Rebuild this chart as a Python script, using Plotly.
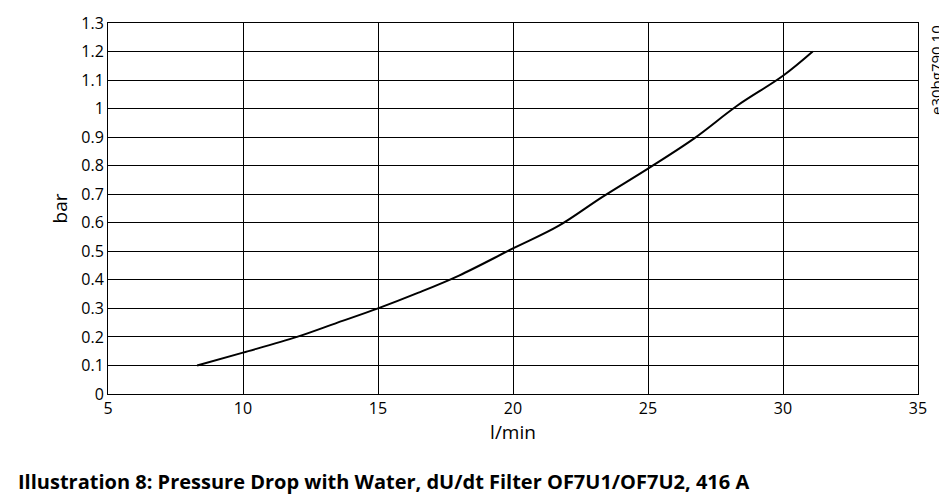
import plotly.graph_objects as go

# flow (l/min) vs pressure drop (bar)
flow = [8.3, 10.0, 12.0, 13.5, 15.0, 16.5, 18.0, 20.0, 21.7, 23.3, 25.0, 26.7, 28.3, 30.0, 31.1]
pressure = [0.10, 0.145, 0.20, 0.25, 0.30, 0.355, 0.415, 0.51, 0.59, 0.69, 0.79, 0.895, 1.01, 1.115, 1.20]

x_ticks = [5, 10, 15, 20, 25, 30, 35]
y_ticks = [0, 0.1, 0.2, 0.3, 0.4, 0.5, 0.6, 0.7, 0.8, 0.9, 1, 1.1, 1.2, 1.3]

fig = go.Figure()
fig.add_scatter(x=flow, y=pressure, mode="lines", line=dict(color="black", width=2, shape="spline"),
                showlegend=False)

fig.update_xaxes(range=[5, 35], tickvals=x_ticks, showgrid=True, gridcolor="black", gridwidth=1,
                 showline=True, linecolor="black", mirror=True, ticks="", zeroline=False, automargin=False,
                 title=dict(text="l/min", standoff=4), tickfont=dict(size=16))
fig.update_yaxes(range=[0, 1.3], tickvals=y_ticks, ticktext=[f"{v:g}" for v in y_ticks],
                 showgrid=True, gridcolor="black", gridwidth=1,
                 showline=True, linecolor="black", mirror=True, ticks="", zeroline=False, automargin=False,
                 title=dict(text="bar", standoff=8), tickfont=dict(size=16))

fig.add_annotation(text="e30bg790.10", x=1.0, y=1.0, xref="paper", yref="paper",
                   xanchor="left", yanchor="top", xshift=6, textangle=-90, showarrow=False,
                   font=dict(size=15))
fig.add_annotation(text="<b>Illustration 8: Pressure Drop with Water, dU/dt Filter OF7U1/OF7U2, 416 A</b>",
                   x=0, y=0, xref="paper", yref="paper", xanchor="left", yanchor="top",
                   xshift=-92, yshift=-72, showarrow=False, font=dict(size=20))

fig.update_layout(width=947, height=497, plot_bgcolor="white", paper_bgcolor="white",
                  margin=dict(l=100, r=37, t=15, b=111),
                  font=dict(family="Open Sans", size=16, color="black"))

fig.write_html("out.html")
